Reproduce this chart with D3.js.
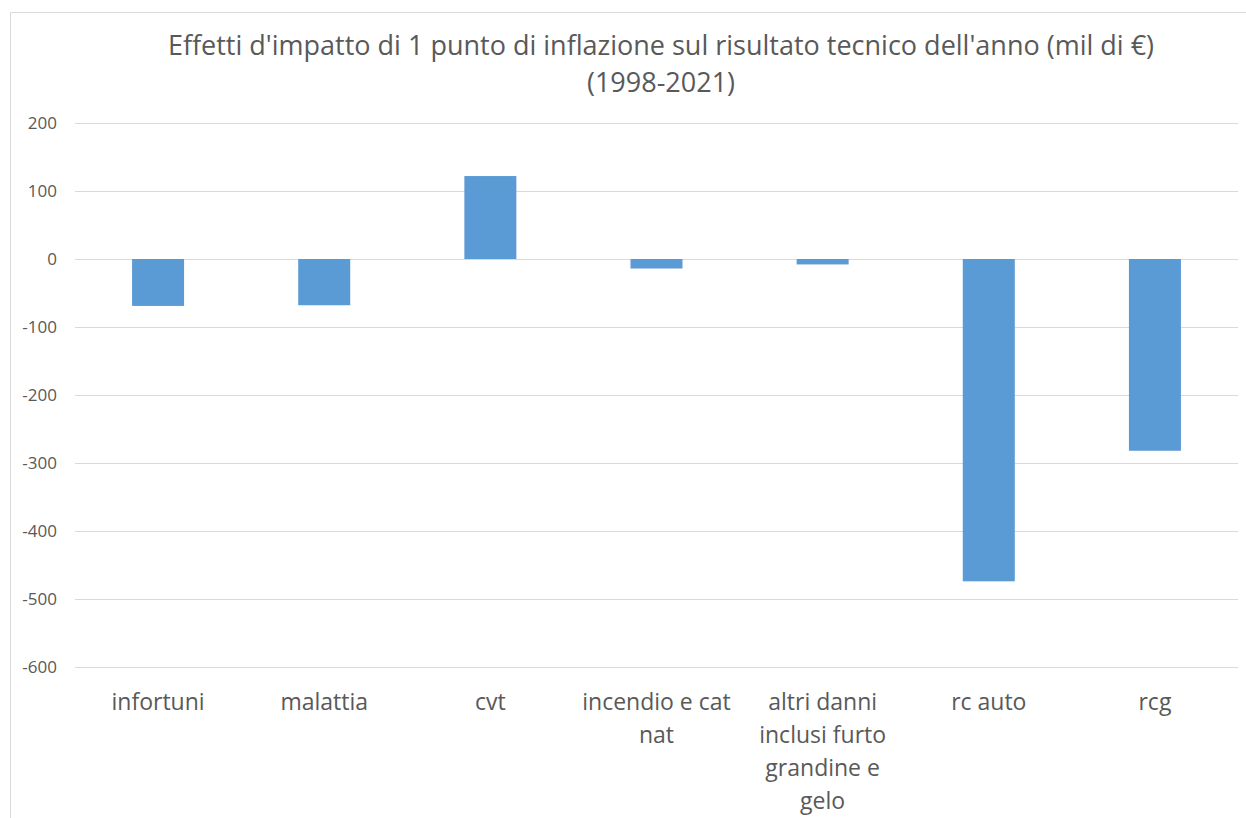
<!DOCTYPE html>
<html>
<head>
<meta charset="utf-8">
<script src="https://cdn.jsdelivr.net/npm/d3@7"></script>
<style>
  body { margin: 0; background: #fff; }
  text { font-family: "Open Sans", sans-serif; fill: #595959; }
</style>
</head>
<body>
<div id="chart"></div>
<script>
// data
var categories = ["infortuni", "malattia", "cvt", "incendio e cat nat",
                  "altri danni inclusi furto grandine e gelo", "rc auto", "rcg"];
var labelLines = [["infortuni"], ["malattia"], ["cvt"], ["incendio e cat", "nat"],
                  ["altri danni", "inclusi furto", "grandine e", "gelo"], ["rc auto"], ["rcg"]];
var values = [-69, -68, 122, -14, -8, -474, -282];
var yTicks = [200, 100, 0, -100, -200, -300, -400, -500, -600];
var titleLines = ["Effetti d'impatto di 1 punto di inflazione sul risultato tecnico dell'anno (mil di €)",
                  "(1998-2021)"];

var W = 1246, H = 818;
var plot = {left: 75, right: 1238, top: 123, bottom: 667};

var svg = d3.select("#chart")
  .append("svg")
    .attr("width", W)
    .attr("height", H);

// chart frame (only top and left edges visible)
svg.append("path")
  .attr("d", "M10.5," + H + "V12.5H" + W)
  .attr("fill", "none")
  .attr("stroke", "#d9d9d9");

var x = d3.scaleBand()
  .domain(categories)
  .range([plot.left, plot.right])
  .paddingInner(0.687)
  .paddingOuter(0.3435);

var y = d3.scaleLinear()
  .domain([-600, 200])
  .range([plot.bottom, plot.top]);

// gridlines
svg.append("g")
  .selectAll("line")
  .data(yTicks)
  .enter()
  .append("line")
    .attr("x1", plot.left)
    .attr("x2", plot.right)
    .attr("y1", function(d) { return Math.round(y(d)) + 0.5; })
    .attr("y2", function(d) { return Math.round(y(d)) + 0.5; })
    .attr("stroke", "#d9d9d9")
    .attr("stroke-width", 1);

// y axis labels (plain hyphen for negatives, like the original)
var yAxis = svg.append("g")
  .attr("transform", "translate(57,0)")
  .call(d3.axisLeft(y).tickValues(yTicks).tickSize(0).tickPadding(0)
    .tickFormat(function(d) { return String(d); }));
yAxis.select(".domain").remove();
yAxis.selectAll("text")
  .attr("font-size", 17)
  .attr("fill", "#595959")
  .attr("font-family", "'Open Sans', sans-serif");

// bars
svg.append("g")
  .selectAll("rect")
  .data(values)
  .enter()
  .append("rect")
    .attr("x", function(d, i) { return x(categories[i]); })
    .attr("width", x.bandwidth())
    .attr("y", function(d) { return y(Math.max(0, d)); })
    .attr("height", function(d) { return Math.abs(y(d) - y(0)); })
    .attr("fill", "#5b9bd5");

// category labels
var labels = svg.append("g")
  .selectAll("text")
  .data(categories)
  .enter()
  .append("text")
    .attr("text-anchor", "middle")
    .attr("font-size", 23)
    .attr("x", function(d) { return x(d) + x.bandwidth() / 2; })
    .attr("y", 710);

labels.each(function(d, i) {
  var t = d3.select(this);
  labelLines[i].forEach(function(line, j) {
    t.append("tspan")
      .attr("x", x(d) + x.bandwidth() / 2)
      .attr("dy", j === 0 ? 0 : 33)
      .text(line);
  });
});

// title
svg.append("g")
  .selectAll("text")
  .data(titleLines)
  .enter()
  .append("text")
    .attr("text-anchor", "middle")
    .attr("font-size", 27)
    .attr("x", 661)
    .attr("y", function(d, i) { return 55 + i * 37; })
    .text(function(d) { return d; });
</script>
</body>
</html>
